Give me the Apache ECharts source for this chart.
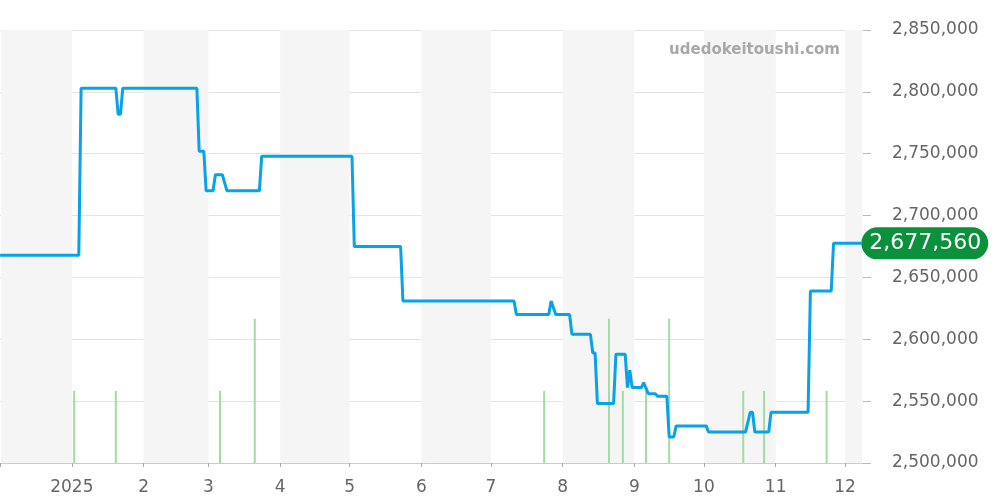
<!DOCTYPE html>
<html>
<head>
<meta charset="utf-8">
<script src="https://cdn.jsdelivr.net/npm/echarts@6/dist/echarts.min.js"></script>
<style>html,body{margin:0;padding:0;background:#fff}#c{width:1000px;height:500px}</style>
</head>
<body>
<div id="c"></div>
<script>
// ---- data ----
var priceDates = ['2024-12-01','2025-01-04','2025-01-05','2025-01-20','2025-01-21','2025-01-22','2025-01-23','2025-02-24','2025-02-25','2025-02-27','2025-02-28','2025-03-03','2025-03-04','2025-03-07','2025-03-09','2025-03-23','2025-03-24','2025-05-02','2025-05-03','2025-05-23','2025-05-24','2025-07-11','2025-07-12','2025-07-26','2025-07-27','2025-07-29','2025-08-04','2025-08-05','2025-08-13','2025-08-14','2025-08-15','2025-08-16','2025-08-23','2025-08-24','2025-08-28','2025-08-29','2025-08-30','2025-08-31','2025-09-04','2025-09-05','2025-09-07','2025-09-10','2025-09-11','2025-09-15','2025-09-16','2025-09-18','2025-09-19','2025-10-02','2025-10-03','2025-10-19','2025-10-21','2025-10-22','2025-10-23','2025-10-29','2025-10-30','2025-11-15','2025-11-16','2025-11-25','2025-11-26','2025-12-08'];
var priceValues = [2668000,2668000,2803000,2803000,2782000,2782000,2803000,2803000,2752000,2752000,2720000,2720000,2733000,2733000,2720000,2720000,2748000,2748000,2675000,2675000,2631000,2631000,2620000,2620000,2631000,2620000,2620000,2604000,2604000,2589000,2589000,2548000,2548000,2588000,2588000,2561000,2575000,2561000,2561000,2565000,2556000,2556000,2554000,2554000,2521000,2521000,2530000,2530000,2525000,2525000,2541000,2541000,2525000,2525000,2541000,2541000,2639000,2639000,2677560,2677560];
var volumeDates = ['2025-01-02','2025-01-20','2025-03-06','2025-03-21','2025-07-24','2025-08-21','2025-08-27','2025-09-06','2025-09-16','2025-10-18','2025-10-27','2025-11-23'];
var volumeValues = [1,1,1,2,1,2,1,1,2,1,1,1];
var bandMonths = ['2024-12','2025-02','2025-04','2025-06','2025-08','2025-10','2025-12'];
var yTickMin = 2500000, yTickMax = 2850000, yTickStep = 50000;
var axisMinDate = '2024-12-01 09:36:00', axisMaxDate = '2025-12-08 07:00:00';
var watermarkText = 'udedokeitoushi.com';

function fmt(n){ return String(n).replace(/\B(?=(\d{3})+(?!\d))/g, ','); }
function parseD(s){ var p = s.split(/[- :]/); return new Date(+p[0], +p[1]-1, +(p[2]||1), +(p[3]||0), +(p[4]||0), +(p[5]||0)).getTime(); }

var tMin = parseD(axisMinDate), tMax = parseD(axisMaxDate);
var bands = bandMonths.map(function(m){
  var p = m.split('-'); var y = +p[0], mo = +p[1]-1;
  var s = new Date(y, mo, 1).getTime(), e = new Date(y, mo+1, 1).getTime();
  return [{xAxis: Math.max(s, tMin)}, {xAxis: Math.min(e, tMax)}];
});
var lineData = priceDates.map(function(d,i){ return [parseD(d), priceValues[i]]; });
var volData = volumeDates.map(function(d,i){ return [parseD(d), volumeValues[i]]; });

var chart = echarts.init(document.getElementById('c'), null, {renderer:'canvas'});
chart.setOption({
  animation: false,
  grid: {left: 0, right: 137, top: 30, bottom: 37, containLabel: false, outerBoundsMode: 'none'},
  xAxis: {
    type: 'time', min: tMin, max: tMax, splitNumber: 12,
    axisLine: {show: true, lineStyle: {color: '#a6dca6', type: 'dotted', width: 1}},
    axisTick: {show: true, length: 4, lineStyle: {color: '#aaaaaa'}},
    splitLine: {show: false},
    axisLabel: {
      color: '#666', fontSize: 17, fontFamily: 'DejaVu Sans', margin: 16, hideOverlap: false,
      showMinLabel: false, showMaxLabel: false,
      formatter: function(v){
        var d = new Date(v);
        if (v <= tMin || v >= tMax || d.getDate() !== 1 || d.getHours() !== 0) return '';
        return d.getMonth() === 0 ? String(d.getFullYear()) : String(d.getMonth()+1);
      }
    }
  },
  yAxis: [{
    type: 'value', position: 'right', min: yTickMin, max: yTickMax, interval: yTickStep,
    axisLine: {show: false},
    axisTick: {show: true, length: 8, lineStyle: {color: '#bbbbbb'}},
    splitLine: {show: true, lineStyle: {color: '#e4e4e4'}},
    axisLabel: {color: '#666', fontSize: 17, fontFamily: 'DejaVu Sans', margin: 29, padding: [4, 0, 0, 0], formatter: function(v){ return fmt(v); }}
  }, {
    type: 'value', min: 0, max: 6, show: false
  }],
  graphic: [{
    type: 'text', right: 160, top: 43, z: 10,
    style: {text: watermarkText, fill: '#a8a8a8', font: 'bold 15px "DejaVu Sans"'}
  }],
  series: [{
    type: 'line', name: 'bands', data: [], z: -1, silent: true,
    markArea: {silent: true, itemStyle: {color: '#f5f5f5'}, data: bands}
  }, {
    type: 'bar', name: 'volume', yAxisIndex: 1, data: volData, barWidth: 2,
    itemStyle: {color: '#a4dba4'}, z: 2
  }, {
    type: 'line', name: 'price', data: lineData, showSymbol: false, symbol: 'none',
    lineStyle: {color: '#08a2e8', width: 3}, itemStyle: {color: '#08a2e8'}, z: 3,
    endLabel: {
      show: true, distance: 0, formatter: function(p){ return fmt(p.value[1]); },
      color: '#fff', fontSize: 22, fontFamily: 'DejaVu Sans', lineHeight: 22,
      backgroundColor: '#0b903b', borderRadius: 16, padding: [5, 7, 5, 8]
    }
  }]
});
</script>
</body>
</html>
